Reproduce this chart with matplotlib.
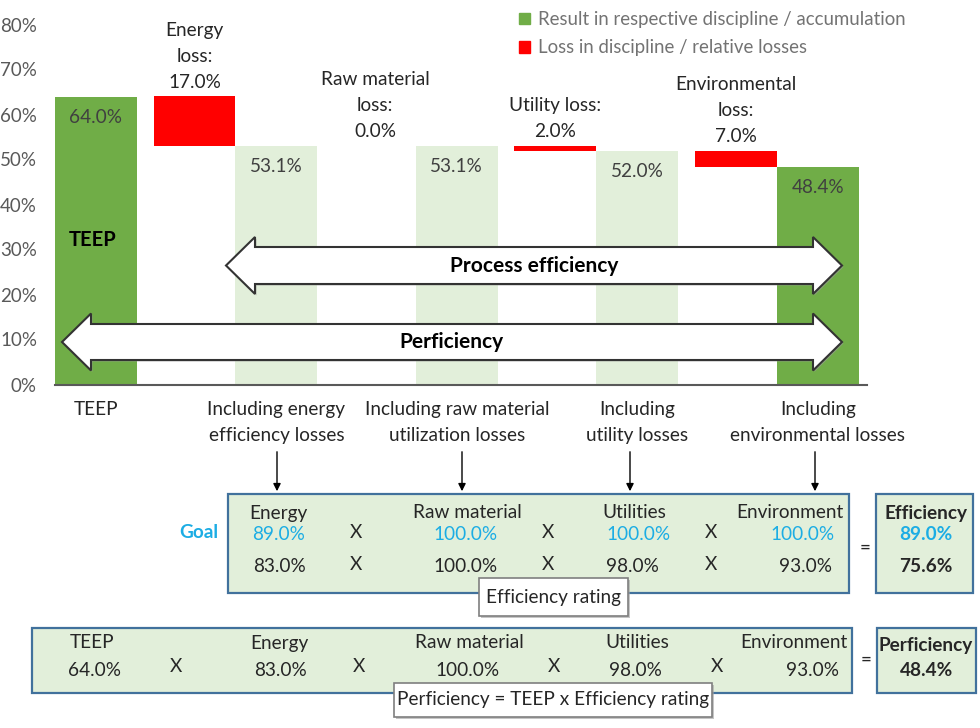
import matplotlib.pyplot as plt
from matplotlib.patches import Polygon, Rectangle, Patch

plt.rcParams['font.family'] = ['Lato', 'DejaVu Sans']

# waterfall data
steps = ['TEEP', 'Including energy\nefficiency losses', 'Including raw material\nutilization losses',
         'Including\nutility losses', 'Including\nenvironmental losses']
results = [64.0, 53.1, 53.1, 52.0, 48.4]
loss_titles = ['Energy\nloss:', 'Raw material\nloss:', 'Utility loss:', 'Environmental\nloss:']
loss_rel = [17.0, 0.0, 2.0, 7.0]
yticks = [0, 10, 20, 30, 40, 50, 60, 70, 80]
legend_labels = ['Result in respective discipline / accumulation', 'Loss in discipline / relative losses']

# rating tables
disciplines = ['Energy', 'Raw material', 'Utilities', 'Environment']
goal = [89.0, 100.0, 100.0, 100.0]
actual = [83.0, 100.0, 98.0, 93.0]
goal_eff = 89.0
eff_rating = 75.6
teep = 64.0
perficiency = 48.4

DARK = '#70AD47'
LIGHT = '#E2EFDA'
RED = '#FF0000'
TXT = '#262626'
BLUE = '#1CADE4'
BORDER = '#41719C'
FS = 13.7

fig = plt.figure(figsize=(9.8, 7.28), dpi=100)
ax = fig.add_axes([55/980, 343.5/728, 812/980, 360/728])

w = 0.454
xr = [k + w/2 for k in range(len(results))]
xl = [k - w/2 for k in range(1, len(results))]
res_colors = [DARK if i in (0, len(results)-1) else LIGHT for i in range(len(results))]
ax.bar(xr, results, w, color=res_colors, zorder=2)
heights = [results[i-1] - results[i] for i in range(1, len(results))]
ax.bar(xl, heights, w, bottom=results[1:], color=RED, zorder=2)

for x, v in zip(xr, results):
    ax.annotate(f'{v:.1f}%', (x, v), xytext=(0, -15), textcoords='offset points',
                ha='center', va='center', fontsize=FS, color='#404040')
for x, t, p, h, b in zip(xl, loss_titles, loss_rel, heights, results[1:]):
    ax.annotate(f'{t}\n{p:.1f}%', (x, b + h), xytext=(0, 4), textcoords='offset points',
                ha='center', va='bottom', fontsize=FS, color=TXT, linespacing=1.65)
ax.text(xr[0] - 0.02, 32.1, 'TEEP', ha='center', va='center', fontsize=14.5, fontweight='bold', color='black')

ax.set_xlim(0, 4.5)
ax.set_ylim(0, 80)
ax.set_yticks(yticks, [f'{t}%' for t in yticks])
ax.set_xticks(xr, steps)
for t in ax.get_xticklabels():
    t.set_linespacing(1.6)
ax.tick_params(axis='y', length=0, pad=13, labelsize=13.5, labelcolor='#595959')
ax.tick_params(axis='x', length=0, pad=12, labelsize=FS, labelcolor=TXT)
for s in ['left', 'right', 'top']:
    ax.spines[s].set_visible(False)
ax.spines['bottom'].set_color('#595959')
ax.spines['bottom'].set_linewidth(1.5)
ax.spines['bottom'].set_zorder(3)

fig.legend([Patch(color=DARK), Patch(color=RED)], legend_labels, loc='upper left',
           bbox_to_anchor=(519/980, 1 - 11/728), frameon=False, handlelength=0.6, handleheight=0.6,
           handletextpad=0.4, labelspacing=0.6, borderpad=0, borderaxespad=0,
           fontsize=13.4, labelcolor='#737373')

# overlay in pixel coordinates
ov = fig.add_axes([0, 0, 1, 1])
ov.set_xlim(0, 980)
ov.set_ylim(728, 0)
ov.axis('off')


def block_arrow(x0, x1, yc, shaft, head, hl, label, lx):
    pts = [(x0, yc), (x0 + hl, yc - head), (x0 + hl, yc - shaft), (x1 - hl, yc - shaft),
           (x1 - hl, yc - head), (x1, yc), (x1 - hl, yc + head), (x1 - hl, yc + shaft),
           (x0 + hl, yc + shaft), (x0 + hl, yc + head)]
    sh = [(px + 1.5, py + 1.5) for px, py in pts]
    ov.add_patch(Polygon(sh, closed=True, fc='#9a9a9a', ec='none', alpha=0.6))
    ov.add_patch(Polygon(pts, closed=True, fc='white', ec='#333333', lw=1.5))
    ov.text(lx, yc, label, ha='center', va='center', fontsize=15, fontweight='bold', color='black')


block_arrow(226, 842, 265.5, 18.5, 28.5, 29, 'Process efficiency', 534)
block_arrow(62, 842, 342, 18, 28.5, 29, 'Perficiency', 451)

# arrows down to the rating box
for x in [277, 462, 630, 815]:
    ov.annotate('', xy=(x, 494), xytext=(x, 449),
                arrowprops=dict(arrowstyle='-|>', color='black', lw=1, mutation_scale=11))


def box(x, y, bw, bh, fc=LIGHT, ec=BORDER, lw=1.6, shadow=False):
    if shadow:
        ov.add_patch(Rectangle((x + 2, y + 2), bw, bh, fc='#a0a0a0', ec='none', alpha=0.6))
    ov.add_patch(Rectangle((x, y), bw, bh, fc=fc, ec=ec, lw=lw))


def txt(x, y, s, color=TXT, bold=False, size=FS):
    ov.text(x, y, s, ha='center', va='center', fontsize=size, color=color,
            fontweight='bold' if bold else 'normal')


# efficiency rating box
box(228, 494, 621, 99)
box(876, 494, 97, 99)
hdr_x = [278, 467, 634, 790]
goal_x = [279, 465, 638, 802]
act_x = [279, 465, 632, 805]
for i, d in enumerate(disciplines):
    txt(hdr_x[i], 513, d)
    txt(goal_x[i], 535, f'{goal[i]:.1f}%', color=BLUE)
    txt(act_x[i], 567, f'{actual[i]:.1f}%')
for x in [356, 548, 711]:
    txt(x, 532, 'X')
    txt(x, 565, 'X')
txt(199, 532, 'Goal', color=BLUE, bold=True)
txt(865, 548, '=')
txt(926, 514, 'Efficiency', bold=True)
txt(926, 535, f'{goal_eff:.1f}%', color=BLUE, bold=True)
txt(926, 567, f'{eff_rating:.1f}%', bold=True)
box(479, 578, 149, 38, fc='white', ec='#7f7f7f', lw=1.2, shadow=True)
txt(553, 597, 'Efficiency rating')

# perficiency box
box(32, 628, 820, 65)
box(877, 628, 99, 65)
p_names = ['TEEP'] + disciplines
p_vals = [teep] + actual
p_hdr_x = [92, 279, 469, 637, 794]
p_val_x = [94, 280, 467, 635, 812]
for i in range(len(p_names)):
    txt(p_hdr_x[i], 643, p_names[i])
    txt(p_val_x[i], 670, f'{p_vals[i]:.1f}%')
for x in [176, 359, 554, 717]:
    txt(x, 666, 'X')
txt(866, 660, '=')
txt(926, 645, 'Perficiency', bold=True)
txt(927, 671, f'{perficiency:.1f}%', bold=True)
box(394, 683, 318, 34, fc='white', ec='#7f7f7f', lw=1.2, shadow=True)
txt(553, 700, 'Perficiency = TEEP x Efficiency rating')

fig.savefig('out.png', dpi=100)
